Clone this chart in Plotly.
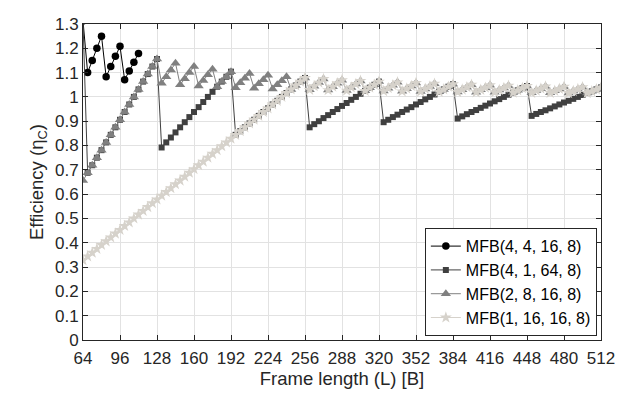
import plotly.graph_objects as go

# Frame lengths (bytes), sampled every 4 B
frame_len = list(range(64, 513, 4))
frame_len_a = list(range(64, 113, 4))

eff_a = [1.313, 1.1, 1.15, 1.2, 1.25, 1.083, 1.125, 1.167, 1.208, 1.071, 1.107, 1.143, 1.179]

eff_b = [1.313,
         0.688, 0.719, 0.75, 0.781, 0.813, 0.844, 0.875, 0.906, 0.938, 0.969, 1.0, 1.031, 1.063, 1.094, 1.125, 1.156,
         0.792, 0.813, 0.833, 0.854, 0.875, 0.896, 0.917, 0.938, 0.958, 0.979, 1.0, 1.021, 1.042, 1.063, 1.083, 1.104,
         0.844, 0.859, 0.875, 0.891, 0.906, 0.922, 0.938, 0.953, 0.969, 0.984, 1.0, 1.016, 1.031, 1.047, 1.063, 1.078,
         0.875, 0.888, 0.9, 0.913, 0.925, 0.938, 0.95, 0.963, 0.975, 0.988, 1.0, 1.013, 1.025, 1.038, 1.05, 1.063,
         0.896, 0.906, 0.917, 0.927, 0.938, 0.948, 0.958, 0.969, 0.979, 0.99, 1.0, 1.01, 1.021, 1.031, 1.042, 1.052,
         0.911, 0.92, 0.929, 0.938, 0.946, 0.955, 0.964, 0.973, 0.982, 0.991, 1.0, 1.009, 1.018, 1.027, 1.036, 1.045,
         0.922, 0.93, 0.938, 0.945, 0.953, 0.961, 0.969, 0.977, 0.984, 0.992, 1.0, 1.008, 1.016, 1.023, 1.031, 1.039]

saw_tail = [1.029, 1.044, 1.059, 1.074,
            1.028, 1.042, 1.056, 1.069,
            1.026, 1.039, 1.053, 1.066,
            1.025, 1.038, 1.05, 1.063,
            1.024, 1.036, 1.048, 1.06,
            1.023, 1.034, 1.045, 1.057,
            1.022, 1.033, 1.043, 1.054,
            1.021, 1.031, 1.042, 1.052,
            1.02, 1.03, 1.04, 1.05,
            1.019, 1.029, 1.038, 1.048,
            1.019, 1.028, 1.037, 1.046,
            1.018, 1.027, 1.036, 1.045,
            1.017, 1.026, 1.034, 1.043,
            1.017, 1.025, 1.033, 1.042,
            1.016, 1.024, 1.032, 1.04,
            1.016, 1.023, 1.031, 1.039]

eff_c = [0.656,
         0.688, 0.719, 0.75, 0.781, 0.813, 0.844, 0.875, 0.906, 0.938, 0.969, 1.0, 1.031, 1.063, 1.094, 1.125, 1.156,
         1.056, 1.083, 1.111, 1.139,
         1.05, 1.075, 1.1, 1.125,
         1.045, 1.068, 1.091, 1.114,
         1.042, 1.063, 1.083, 1.104,
         1.038, 1.058, 1.077, 1.096,
         1.036, 1.054, 1.071, 1.089,
         1.033, 1.05, 1.067, 1.083,
         1.031, 1.047, 1.063, 1.078] + saw_tail

eff_d = [0.328, 0.344, 0.359, 0.375, 0.391, 0.406, 0.422, 0.438, 0.453, 0.469, 0.484, 0.5, 0.516,
         0.531, 0.547, 0.563, 0.578, 0.594, 0.609, 0.625, 0.641, 0.656, 0.672, 0.688, 0.703, 0.719,
         0.734, 0.75, 0.766, 0.781, 0.797, 0.813, 0.828, 0.844, 0.859, 0.875, 0.891, 0.906, 0.922,
         0.938, 0.953, 0.969, 0.984, 1.0, 1.016, 1.031, 1.047, 1.063, 1.078] + saw_tail

names = ["MFB(4, 4, 16, 8)", "MFB(4, 1, 64, 8)", "MFB(2, 8, 16, 8)", "MFB(1, 16, 16, 8)"]
x_ticks = list(range(64, 513, 32))
y_ticks = [0, 0.1, 0.2, 0.3, 0.4, 0.5, 0.6, 0.7, 0.8, 0.9, 1, 1.1, 1.2, 1.3]
y_tick_text = ["0", "0.1", "0.2", "0.3", "0.4", "0.5", "0.6", "0.7", "0.8", "0.9", "1", "1.1", "1.2", "1.3"]

FONT = "Liberation Sans, Arial, Helvetica"

fig = go.Figure()
styles = [
    (frame_len_a, eff_a, "#000000", "circle", 7.5),
    (frame_len, eff_b, "#404040", "square", 6),
    (frame_len, eff_c, "#808080", "triangle-up", 9),
    (frame_len, eff_d, "#d6d2cb", "star", 9),
]
for (xs, ys, col, sym, sz), nm in zip(styles, names):
    fig.add_trace(go.Scatter(
        x=xs, y=ys, name=nm, mode="lines+markers",
        line=dict(color=col, width=1),
        marker=dict(symbol=sym, size=sz, color=col, line=dict(width=0)),
    ))

axis_common = dict(
    showline=True, linecolor="#262626", linewidth=1, mirror="ticks",
    ticks="inside", ticklen=5, tickcolor="#262626",
    showgrid=True, gridcolor="#e2e2e2", gridwidth=1, zeroline=False,
    tickfont=dict(family=FONT, size=17, color="#262626"),
    ticklabeloverflow="allow",
)
fig.update_xaxes(range=[64, 512], tickvals=x_ticks, ticklabelstandoff=3, **axis_common,
                 title=dict(text="Frame length (L) [B]", font=dict(family=FONT, size=18.5, color="#262626"), standoff=2))
fig.update_yaxes(range=[0, 1.3], tickvals=y_ticks, ticktext=y_tick_text, **axis_common,
                 title=dict(text="Efficiency (η<sub>C</sub>)", font=dict(family=FONT, size=18.5, color="#262626"), standoff=6))

fig.update_layout(
    width=623, height=396,
    margin=dict(l=75, r=30, t=7, b=64),
    paper_bgcolor="white", plot_bgcolor="white",
    showlegend=True,
    legend=dict(x=0.992, y=0.012, xanchor="right", yanchor="bottom",
                bgcolor="white", bordercolor="#262626", borderwidth=1,
                font=dict(family=FONT, size=16, color="#000000"),
                itemwidth=30, tracegroupgap=0),
)
fig.write_html("out.html")
